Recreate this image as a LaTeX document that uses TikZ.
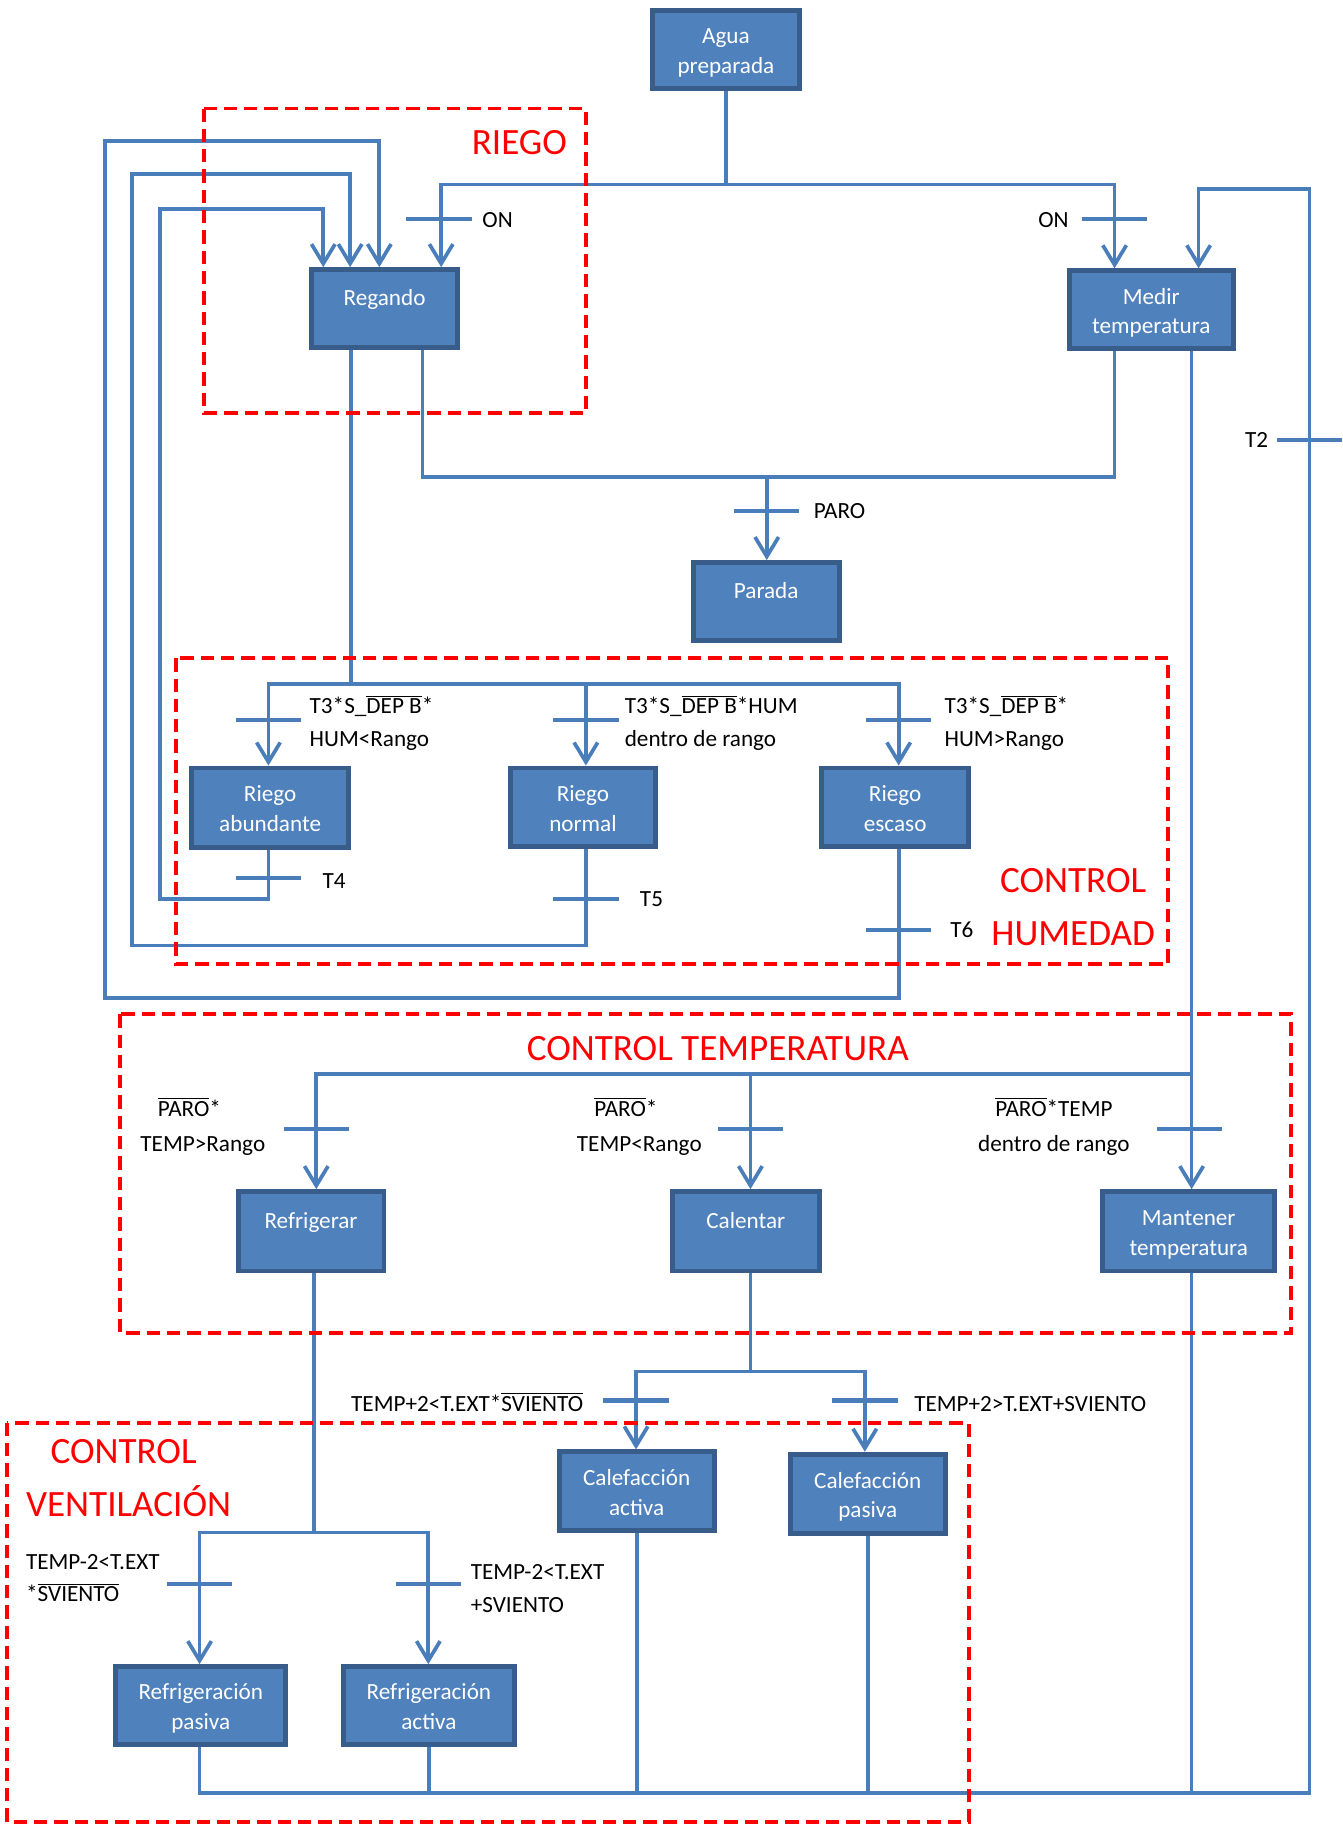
\documentclass[tikz,border=0pt]{standalone}
\usepackage{fontspec}
\setmainfont{Carlito}
\usetikzlibrary{arrows.meta,backgrounds}
\definecolor{bfill}{RGB}{79,129,189}
\definecolor{bdraw}{RGB}{56,93,138}
\definecolor{lblue}{RGB}{74,126,187}
\newcommand{\boxtxt}[3][12pt]{\rule{0pt}{#1}#2\\#3\rule[-3.1pt]{0pt}{3.1pt}}
\begin{document}
\begin{tikzpicture}[x=0.02cm,y=-0.02cm,
 box/.style={draw=bdraw, fill=bfill, line width=2.4pt, text=white, align=center, inner sep=0pt,
   font=\fontsize{11.3}{14.6}\selectfont, minimum width=2.52cm, minimum height=1.34cm},
 conn/.style={draw=lblue, line width=1.8pt, line cap=rect},
 arr/.style={conn, -{Straight Barb[length=9.5pt,width=11.5pt]}},
 lbl/.style={inner sep=0pt, font=\fontsize{11.3}{13.6}\selectfont},
 zone/.style={draw=red, line width=1.9pt, dash pattern=on 6.5pt off 3.4pt},
 zlbl/.style={inner sep=0pt, text=red, font=\fontsize{18.1}{21}\selectfont}]
\useasboundingbox (0,0) rectangle (1150,1568);

% ---- steps ----
\node[box] (agua) at (622,42.5) {\boxtxt{Agua}{preparada}};
\node[box, minimum width=2.50cm] (regando) at (329.5,264.5) {\boxtxt[14.5pt]{Regando}{}};
\node[box, minimum width=2.82cm] (medir) at (986.5,265.5) {\boxtxt{Medir}{temperatura}};
\node[box, minimum width=2.50cm] (parada) at (656.5,515.5) {\boxtxt[14.5pt]{Parada}{}};
\node[box, minimum width=2.70cm, minimum height=1.36cm] (rabund) at (231.5,692) {\boxtxt{Riego}{abundante}};
\node[box, minimum width=2.50cm] (rnormal) at (499.5,691.5) {\boxtxt{Riego}{normal}};
\node[box] (rescaso) at (767,691.5) {\boxtxt{Riego}{escaso}};
\node[box, minimum width=2.50cm, minimum height=1.36cm] (refrig) at (266.5,1055) {\boxtxt[14.5pt]{Refrigerar}{}};
\node[box, minimum height=1.36cm] (calentar) at (639,1055) {\boxtxt[14.5pt]{Calentar}{}};
\node[box, minimum width=2.94cm, minimum height=1.36cm] (mantener) at (1018.5,1055) {\boxtxt{Mantener}{temperatura}};
\node[box, minimum width=2.66cm] (calact) at (545.5,1277.5) {\boxtxt{Calefacción}{activa}};
\node[box, minimum width=2.66cm, minimum height=1.36cm] (calpas) at (743.5,1280) {\boxtxt{Calefacción}{pasiva}};
\node[box, minimum width=2.92cm] (refpas) at (172,1461.5) {\boxtxt{Refrigeración}{pasiva}};
\node[box, minimum width=2.94cm] (refact) at (367.5,1461.5) {\boxtxt{Refrigeración}{activa}};

% ---- junction coordinates ----
\coordinate (jA) at (622,158);
\coordinate (jAL) at (378,158);
\coordinate (jAR) at (955,158);
\coordinate (o1) at (770,855); \coordinate (o2) at (90,855);
\coordinate (o3) at (90,121);  \coordinate (o4) at (325,121);
\coordinate (m1) at (502,810); \coordinate (m2) at (113,810);
\coordinate (m3) at (113,149); \coordinate (m4) at (300,149);
\coordinate (i1) at (230,770); \coordinate (i2) at (137,770);
\coordinate (i3) at (137,179); \coordinate (i4) at (277,179);
\coordinate (h0) at (301,586); \coordinate (hL) at (230,586);
\coordinate (hM) at (502,586); \coordinate (hR) at (770,586);
\coordinate (p1) at (362,409); \coordinate (p2) at (955,409); \coordinate (p0) at (657,409);
\coordinate (t0) at (1021,920); \coordinate (tL) at (271,920); \coordinate (tM) at (643,920);
\coordinate (b0) at (171,1536); \coordinate (b1) at (1122,1536);
\coordinate (q1) at (1122,162); \coordinate (q2) at (1027,162);
\coordinate (v0) at (269,1313); \coordinate (vL) at (171,1313); \coordinate (vR) at (367,1313);
\coordinate (c0) at (643,1175); \coordinate (cL) at (545,1175); \coordinate (cR) at (741,1175);

\begin{scope}[on background layer]
\fill[white] (0,0) rectangle (1150,1568);
% start
\draw[conn] (agua.south) -- (jA);
\draw[conn] (jAL) -- (jAR);
\draw[arr] (jAL) -- (regando.north -| jAL);
\draw[arr] (jAR) -- (medir.north -| jAR);
% return loops
\draw[arr] (rescaso.south -| o1) -- (o1) -- (o2) -- (o3) -- (o4) -- (regando.north -| o4);
\draw[arr] (rnormal.south -| m1) -- (m1) -- (m2) -- (m3) -- (m4) -- (regando.north -| m4);
\draw[arr] (rabund.south -| i1) -- (i1) -- (i2) -- (i3) -- (i4) -- (regando.north -| i4);
% humidity divergence
\draw[conn] (regando.south -| h0) -- (h0);
\draw[conn] (hL) -- (hR);
\draw[arr] (hL) -- (rabund.north -| hL);
\draw[arr] (hM) -- (rnormal.north -| hM);
\draw[arr] (hR) -- (rescaso.north -| hR);
% PARO
\draw[conn] (regando.south -| p1) -- (p1) -- (p2) -- (medir.south -| p2);
\draw[arr] (p0) -- (parada.north -| p0);
% temperature divergence
\draw[conn] (medir.south -| t0) -- (t0) -- (tL);
\draw[arr] (tL) -- (refrig.north -| tL);
\draw[arr] (tM) -- (calentar.north -| tM);
\draw[arr] (t0) -- (mantener.north -| t0);
% T2 loop
\draw[arr] (b1) -- (q1) -- (q2) -- (medir.north -| q2);
% ventilation divergence
\draw[conn] (refrig.south -| v0) -- (v0);
\draw[conn] (vL) -- (vR);
\draw[arr] (vL) -- (refpas.north -| vL);
\draw[arr] (vR) -- (refact.north -| vR);
% heating divergence
\draw[conn] (calentar.south -| c0) -- (c0);
\draw[conn] (cL) -- (cR);
\draw[arr] (cL) -- (calact.north -| cL);
\draw[arr] (cR) -- (calpas.north -| cR);
% bottom convergence
\draw[conn] (b0) -- (b1);
\draw[conn] (refpas.south -| b0) -- (b0);
\draw[conn] (refact.south) -- (refact.south |- b0);
\draw[conn] (calact.south) -- (calact.south |- b0);
\draw[conn] (calpas.south) -- (calpas.south |- b0);
\draw[conn] (mantener.south -| t0) -- (t0 |- b0);
% transition bars
\foreach \bx/\by in {376/188, 955/188, 1122/377, 657/438,
  230/617, 502/617, 770/617, 230/752, 502/770, 770/797,
  271/967, 643/967, 1019/967, 545/1200, 741/1200, 171/1357, 367/1357}
  \draw[conn, line cap=butt, line width=2pt] (\bx,\by) ++(-28,0) -- ++(56,0);
\end{scope}

% ---- zones ----
\draw[zone] (175,93) rectangle (502,354);
\draw[zone] (151,564) rectangle (1001,826);
\draw[zone] (103,869) rectangle (1106,1142);
\draw[zone] (6,1219) rectangle (830,1561);
\node[zlbl, anchor=base] (zriego) at (445,132) {RIEGO};
\node[zlbl, anchor=base] (zhum1) at (919.5,765) {CONTROL};
\node[zlbl, anchor=base] (zhum2) at (919.5,810) {HUMEDAD};
\node[zlbl, anchor=base] (ztemp) at (615,909) {CONTROL TEMPERATURA};
\node[zlbl, anchor=base west] (zven1) at (43,1254) {CONTROL};
\node[zlbl, anchor=base west] (zven2) at (22,1299) {VENTILACIÓN};

% ---- transition labels ----
\node[lbl, anchor=base west] (lon1) at (413,194.5) {ON};
\node[lbl, anchor=base east] (lon2) at (916,194.5) {ON};
\node[lbl, anchor=base east] (lt2) at (1087,383.5) {T2};
\node[lbl, anchor=base west] (lparo) at (697,444.5) {PARO};
\node[lbl, anchor=base west] (lh1a) at (265,611.5) {T3*S\_$\overline{\mbox{DEP B}}$*};
\node[lbl, anchor=base west] (lh1b) at (265,639.5) {HUM<Rango};
\node[lbl, anchor=base west] (lh2a) at (535,611.5) {T3*S\_$\overline{\mbox{DEP B}}$*HUM};
\node[lbl, anchor=base west] (lh2b) at (535,639.5) {dentro de rango};
\node[lbl, anchor=base west] (lh3a) at (809,611.5) {T3*S\_$\overline{\mbox{DEP B}}$*};
\node[lbl, anchor=base west] (lh3b) at (809,639.5) {HUM>Rango};
\node[lbl, anchor=base west] (lt4) at (276,761.5) {T4};
\node[lbl, anchor=base west] (lt5) at (548,776.5) {T5};
\node[lbl, anchor=base west] (lt6) at (814,803.5) {T6};
\node[lbl, anchor=base west] (lc1a) at (135,956.5) {$\overline{\mbox{PARO}}$*};
\node[lbl, anchor=base west] (lc1b) at (120,986.5) {TEMP>Rango};
\node[lbl, anchor=base west] (lc2a) at (509,956.5) {$\overline{\mbox{PARO}}$*};
\node[lbl, anchor=base west] (lc2b) at (494,986.5) {TEMP<Rango};
\node[lbl, anchor=base] (lc3a) at (903,956.5) {$\overline{\mbox{PARO}}$*TEMP};
\node[lbl, anchor=base] (lc3b) at (903,986.5) {dentro de rango};
\node[lbl, anchor=base east] (lk1) at (500,1209.5) {TEMP+2<T.EXT*$\overline{\mbox{SVIENTO}}$};
\node[lbl, anchor=base west] (lk2) at (783,1209.5) {TEMP+2>T.EXT+SVIENTO};
\node[lbl, anchor=base west] (lv1a) at (22,1344.5) {TEMP-2<T.EXT};
\node[lbl, anchor=base west] (lv1b) at (22,1372.5) {*$\overline{\mbox{SVIENTO}}$};
\node[lbl, anchor=base west] (lv2a) at (403,1353.5) {TEMP-2<T.EXT};
\node[lbl, anchor=base west] (lv2b) at (403,1381.5) {+SVIENTO};
\end{tikzpicture}
\end{document}
